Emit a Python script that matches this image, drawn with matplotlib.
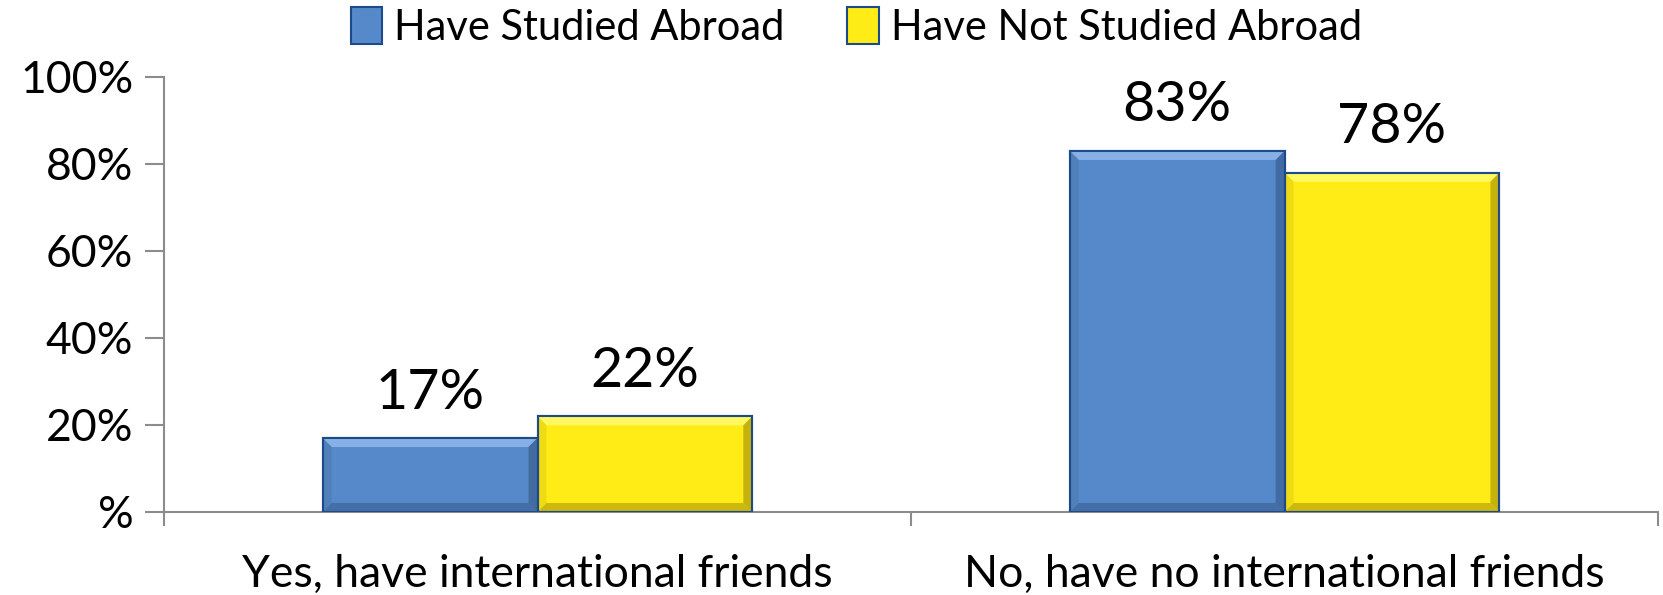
import numpy as np
import matplotlib.pyplot as plt
from matplotlib.patches import Polygon
from matplotlib.ticker import FuncFormatter

plt.rcParams['font.family'] = ['Lato', 'DejaVu Sans']

categories = ['Yes, have international friends', 'No, have no international friends']
series_names = ['Have Studied Abroad', 'Have Not Studied Abroad']
studied = [17, 83]
not_studied = [22, 78]
y_ticks = [0, 20, 40, 60, 80, 100]

blue = '#5689C9'
yellow = '#FFEC17'
edge = '#1D4A8A'
gray = '#8C8C8C'

fig = plt.figure(figsize=(16.63, 5.95), dpi=100)
ax = fig.add_axes([0.0986, 0.1395, 0.8985, 0.7311])

x = np.arange(len(categories))
w = 0.2875
b1 = ax.bar(x - w / 2, studied, w, color=blue, edgecolor=edge, linewidth=1.5,
            label=series_names[0], zorder=2)
b2 = ax.bar(x + w / 2, not_studied, w, color=yellow, edgecolor=edge, linewidth=1.5,
            label=series_names[1], zorder=2)

ax.set_xlim(-0.5, 1.5)
ax.set_ylim(0, 100)

# bevel look, built from the bar patches
fig.canvas.draw()
px_x = 1.0 / (ax.transData.transform((1, 0))[0] - ax.transData.transform((0, 0))[0])
px_y = 100.0 / (ax.transData.transform((0, 100))[1] - ax.transData.transform((0, 0))[1])
bev = 9
for bars, light, dark, side in [(b1, '#8DB6EA', '#3D6598', '#46729F'),
                                (b2, '#FFFA6A', '#B8A40A', '#D2BE10')]:
    for p in bars:
        x0, y0 = p.get_x(), p.get_y()
        x1, y1 = x0 + p.get_width(), y0 + p.get_height()
        dx, dy = bev * px_x, bev * px_y
        shapes = [
            ([(x0, y1), (x1, y1), (x1 - dx, y1 - dy), (x0 + dx, y1 - dy)], light, 0.9),
            ([(x1, y1), (x1, y0), (x1 - dx, y0 + dy), (x1 - dx, y1 - dy)], dark, 0.8),
            ([(x0, y0), (x1, y0), (x1 - dx, y0 + dy), (x0 + dx, y0 + dy)], dark, 0.7),
            ([(x0, y0), (x0, y1), (x0 + dx, y1 - dy), (x0 + dx, y0 + dy)], side, 0.35),
        ]
        for pts, c, a in shapes:
            ax.add_patch(Polygon(pts, closed=True, facecolor=c, edgecolor='none',
                                 alpha=a, zorder=2.5))
        ax.add_patch(plt.Rectangle((x0, y0), p.get_width(), p.get_height(),
                                   fill=False, edgecolor=edge, linewidth=1.5, zorder=3))

for bars, vals in [(b1, studied), (b2, not_studied)]:
    for p, v in zip(bars, vals):
        ax.annotate(f'{v}%', (p.get_x() + p.get_width() / 2, p.get_height()),
                    xytext=(0, 14), textcoords='offset points', ha='center', va='bottom',
                    fontsize=40)

ax.set_yticks(y_ticks)
ax.yaxis.set_major_formatter(FuncFormatter(lambda v, pos: '%' if v == 0 else f'{int(v)}%'))
ax.set_xticks([-0.5, 0.5, 1.5])
ax.set_xticklabels([])
ax.set_xticks(x, minor=True)
ax.set_xticklabels(categories, minor=True)
ax.tick_params(axis='x', which='minor', length=0, pad=30, labelsize=32)
ax.tick_params(axis='x', which='major', length=10, color=gray, width=1.5)
ax.tick_params(axis='y', length=14, color=gray, width=1.5, labelsize=32, pad=8)

for s in ['top', 'right']:
    ax.spines[s].set_visible(False)
for s in ['left', 'bottom']:
    ax.spines[s].set_color(gray)
    ax.spines[s].set_linewidth(1.5)

leg = fig.legend(handles=[b1, b2], loc='center', bbox_to_anchor=(0.515, 0.955), ncol=2,
                 frameon=False, fontsize=30, handlelength=0.75, handleheight=1.0,
                 handletextpad=0.3, columnspacing=1.5, borderaxespad=0)

fig.savefig('out.png', dpi=100)
